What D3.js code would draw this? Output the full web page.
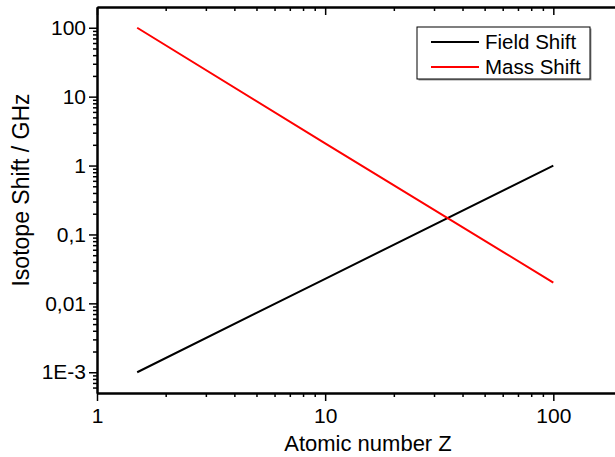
<!DOCTYPE html>
<html>
<head>
<meta charset="utf-8">
<script src="https://cdn.jsdelivr.net/npm/d3@7"></script>
<style>
  body { margin: 0; background: #fff; }
  svg text { font-family: "Liberation Sans", Arial, sans-serif; fill: #000; }
</style>
</head>
<body>
<svg id="chart" width="615" height="457"></svg>
<script>
// Series data
const atomicZ = [1.5, 10, 100];
const fieldShift = [0.001, 0.0227, 1];
const massShift = [100, 2.1, 0.02];

const seriesNames = ['Field Shift', 'Mass Shift'];
const seriesColors = ['#000000', '#ff0000'];

const xTicks = [1, 10, 100];
const yTicks = [100, 10, 1, 0.1, 0.01, 0.001];
const yTickLabels = ['100', '10', '1', '0,1', '0,01', '1E-3'];

const margin = { left: 97, top: 7, bottom: 64 };
const plotW = 525; // right edge of the frame falls just outside the window
const plotH = 457 - margin.top - margin.bottom;

const svg = d3.select('#chart');
const g = svg.append('g').attr('transform', `translate(${margin.left},${margin.top})`);

const x = d3.scaleLog().domain([1, 200]).range([0, plotW]);
const y = d3.scaleLog().domain([5e-4, 200]).range([plotH, 0]);

// minor tick values
const xMinor = [];
for (let d = 1; d < 200; d *= 10) for (let k = 2; k <= 9; k++) if (d * k < 200) xMinor.push(d * k);
const yMinor = [];
for (let d = 1e-4; d < 200; d *= 10) for (let k = 2; k <= 9; k++) if (d * k > 5e-4 && d * k < 200) yMinor.push(d * k);

function styleAxis(sel) {
    sel.select('.domain').attr('stroke', '#000').attr('stroke-width', 2);
    sel.selectAll('.tick line').attr('stroke', '#000').attr('stroke-width', 1.5);
    sel.selectAll('.tick text').attr('font-size', '21px');
}

// Bottom axis
g.append('g').attr('transform', `translate(0,${plotH})`)
    .call(d3.axisBottom(x).tickValues(xMinor).tickSize(4).tickFormat('').tickSizeOuter(0))
    .call(styleAxis);
g.append('g').attr('transform', `translate(0,${plotH})`)
    .call(d3.axisBottom(x).tickValues(xTicks).tickSize(8).tickPadding(7).tickFormat(d3.format('d')).tickSizeOuter(0))
    .call(styleAxis);

// Top axis (ticks pointing inward)
g.append('g')
    .call(d3.axisBottom(x).tickValues(xMinor).tickSize(4).tickFormat('').tickSizeOuter(0))
    .call(styleAxis);
g.append('g')
    .call(d3.axisBottom(x).tickValues(xTicks).tickSize(8).tickFormat('').tickSizeOuter(0))
    .call(styleAxis);

// Left axis
g.append('g')
    .call(d3.axisLeft(y).tickValues(yMinor).tickSize(4).tickFormat('').tickSizeOuter(0))
    .call(styleAxis);
g.append('g')
    .call(d3.axisLeft(y).tickValues(yTicks).tickSize(8).tickPadding(3)
        .tickFormat((d, i) => yTickLabels[i]).tickSizeOuter(0))
    .call(styleAxis);

// Right frame line (off-screen)
g.append('g').attr('transform', `translate(${plotW},0)`)
    .call(d3.axisRight(y).tickValues([]).tickSizeOuter(0))
    .call(styleAxis);

// Lines
const line = d3.line().x(d => x(d[0])).y(d => y(d[1]));
[fieldShift, massShift].forEach((vals, i) => {
    g.append('path')
        .datum(atomicZ.map((z, j) => [z, vals[j]]))
        .attr('fill', 'none')
        .attr('stroke', seriesColors[i])
        .attr('stroke-width', 2)
        .attr('d', line);
});

// Axis titles
svg.append('text')
    .attr('x', 368)
    .attr('y', 451)
    .attr('text-anchor', 'middle')
    .attr('font-size', '22px')
    .text('Atomic number Z');

svg.append('text')
    .attr('transform', 'translate(29,190) rotate(-90)')
    .attr('text-anchor', 'middle')
    .attr('font-size', '23px')
    .text('Isotope Shift / GHz');

// Legend
const legend = svg.append('g').attr('transform', 'translate(417,27)');
legend.append('rect').attr('x', 1.5).attr('y', 1.5).attr('width', 173).attr('height', 52).attr('fill', '#999');
legend.append('rect').attr('width', 173).attr('height', 52).attr('fill', '#fff').attr('stroke', '#000').attr('stroke-width', 1);
seriesNames.forEach((name, i) => {
    const ly = 15 + i * 25;
    legend.append('line')
        .attr('x1', 14).attr('x2', 62).attr('y1', ly).attr('y2', ly)
        .attr('stroke', seriesColors[i]).attr('stroke-width', 2);
    legend.append('text')
        .attr('x', 68).attr('y', ly + 7)
        .attr('font-size', '20.5px')
        .text(name);
});
</script>
</body>
</html>
